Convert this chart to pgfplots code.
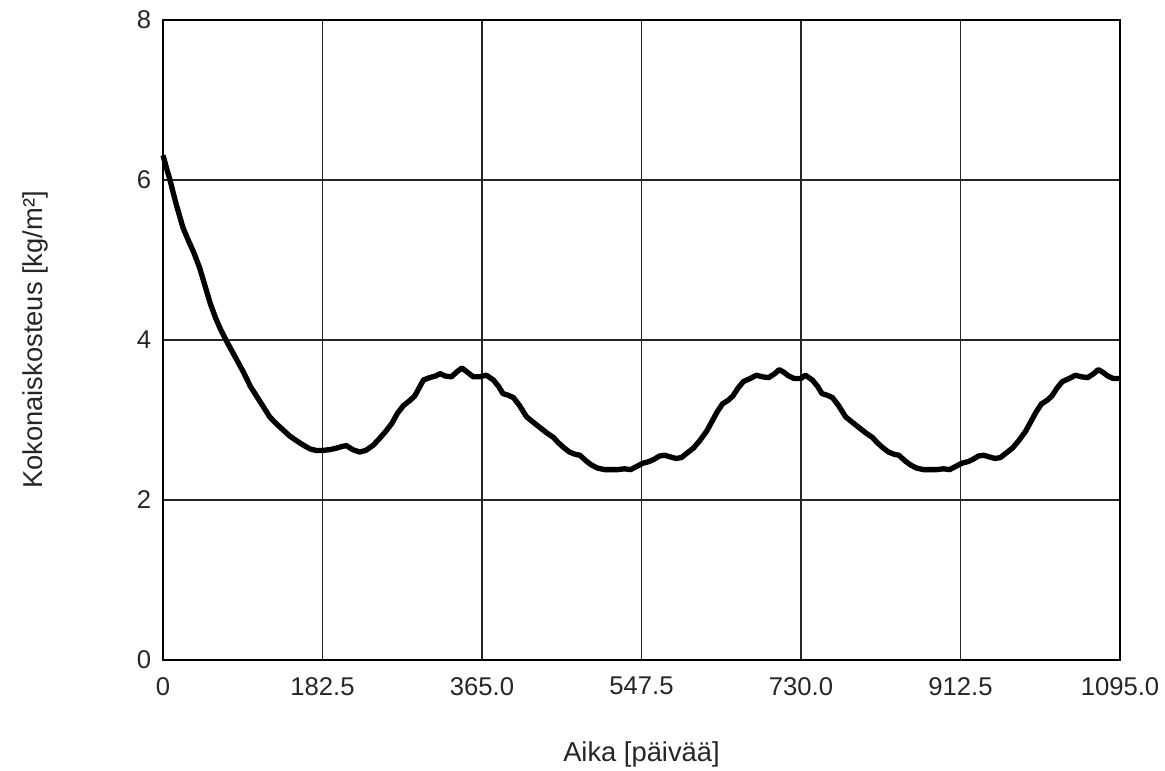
\documentclass[border=0pt]{standalone}
\usepackage{fontspec}
\setmainfont{Liberation Sans}
\usepackage{pgfplots}
\pgfplotsset{compat=1.18}
\begin{document}
\begin{tikzpicture}
\useasboundingbox (-48.9pt,-33pt) rectangle (300.6pt,198pt);
\begin{axis}[
  at={(0pt,0pt)}, anchor=south west,
  scale only axis,
  width=287.1pt, height=192pt,
  xmin=0, xmax=1095, ymin=0, ymax=8,
  xtick={0,182.5,365,547.5,730,912.5,1095},
  xticklabels={0,182.5,365.0,547.5,730.0,912.5,1095.0},
  ytick={0,2,4,6,8},
  major tick length=0pt,
  grid=major,
  major grid style={black!85, line width=0.38pt},
  axis line style={black, line width=0.75pt},
  font=\fontsize{8.2}{9.8}\selectfont,
  /pgf/number format/assume math mode=true,
  tick label style={font=\fontsize{7.7}{9.2}\selectfont, text=black!85},
  xticklabel style={yshift=-1.6pt},
  xlabel={Aika [päivää]},
  ylabel={Kokonaiskosteus [kg/m²]},
  xlabel style={at={(axis description cs:0.5,-0.148)}, anchor=center, text=black!85},
  ylabel style={at={(axis description cs:-0.1337,0.5)}, anchor=center, rotate=0, text=black!85},
  clip=false,
]
\addplot[black, line width=1.6pt, line join=round] coordinates {
(0,6.31)(4,6.15)(8,6.0)(15,5.7)(23,5.4)(30,5.22)(35,5.1)(42,4.9)(48,4.68)(54,4.46)
(60,4.28)(66,4.13)(73,3.98)(80,3.84)(86,3.72)(92,3.6)(100,3.42)(107,3.3)(114,3.18)
(122,3.04)(130,2.95)(138,2.87)(145,2.8)(153,2.74)(160,2.69)(168,2.64)(175,2.62)
(183,2.62)(191,2.63)(199,2.65)(205,2.67)(210,2.68)(217,2.63)(225,2.6)(232,2.62)
(240,2.68)(247,2.76)(255,2.86)(262,2.96)(268,3.08)(275,3.18)(282,3.24)(288,3.3)
(293,3.4)(298,3.5)(305,3.53)(312,3.55)(317,3.58)(323,3.55)(330,3.54)(336,3.6)
(342,3.65)(348,3.6)(355,3.54)(362,3.54)
(370,3.56)(378,3.5)(384,3.42)(389,3.33)(395,3.31)(401,3.28)(408,3.18)(416,3.04)
(425,2.96)(432,2.9)(439,2.84)(447,2.78)(452,2.72)(458,2.66)(465,2.6)(472,2.57)
(477,2.56)(484,2.49)(490,2.44)(497,2.4)(505,2.38)(512,2.38)(520,2.38)(528,2.39)
(535,2.38)(542,2.42)(549,2.46)(556,2.48)(562,2.51)(568,2.55)(574,2.56)(580,2.54)
(587,2.52)(593,2.53)(600,2.59)(607,2.65)(614,2.74)(622,2.86)(628,2.98)(634,3.1)
(640,3.2)(647,3.25)(652,3.3)(658,3.4)(664,3.48)(672,3.52)(679,3.56)(686,3.54)
(693,3.53)(700,3.58)(705,3.63)(710,3.6)(716,3.55)(722,3.52)(730,3.52)
(735,3.56)(743,3.5)(749,3.42)(754,3.33)(760,3.31)(766,3.28)(773,3.18)(781,3.04)
(790,2.96)(797,2.9)(804,2.84)(812,2.78)(817,2.72)(823,2.66)(830,2.6)(837,2.57)
(842,2.56)(849,2.49)(855,2.44)(862,2.4)(870,2.38)(877,2.38)(885,2.38)(893,2.39)
(900,2.38)(907,2.42)(914,2.46)(921,2.48)(927,2.51)(933,2.55)(939,2.56)(945,2.54)
(952,2.52)(958,2.53)(965,2.59)(972,2.65)(979,2.74)(987,2.86)(993,2.98)(999,3.1)
(1005,3.2)(1012,3.25)(1017,3.3)(1023,3.4)(1029,3.48)(1037,3.52)(1044,3.56)(1051,3.54)
(1058,3.53)(1065,3.58)(1070,3.63)(1075,3.6)(1081,3.55)(1087,3.52)(1095,3.52)
};
\end{axis}
\end{tikzpicture}
\end{document}
